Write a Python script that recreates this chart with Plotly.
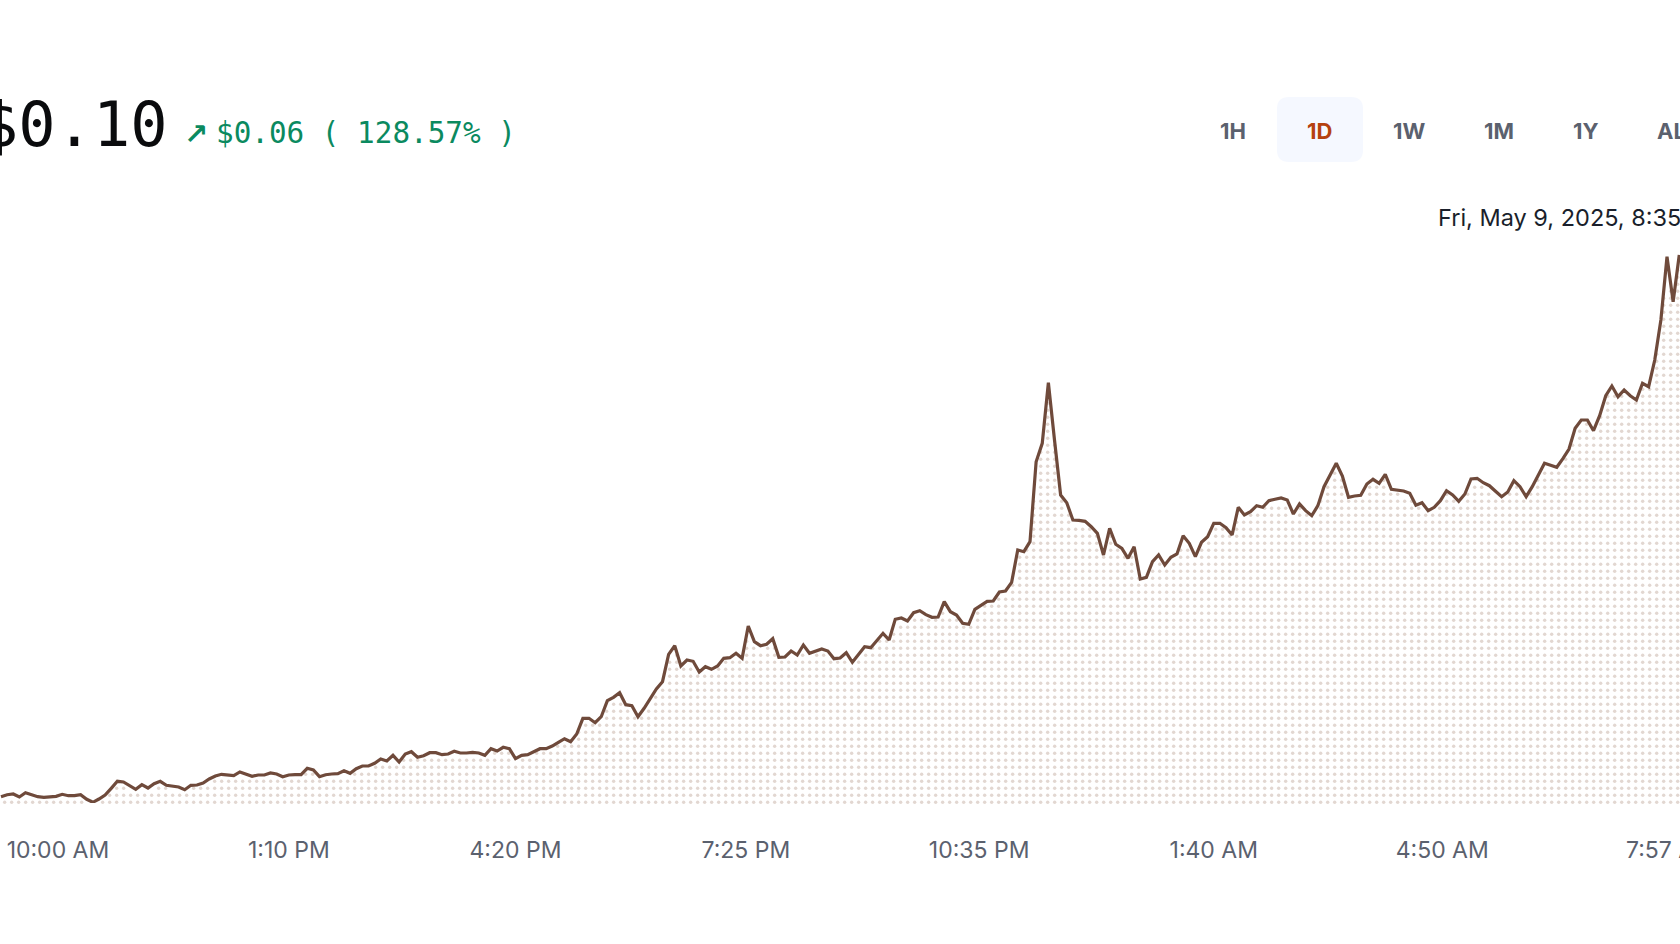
"""Token price over one day, dotted area under a brown line."""

import numpy as np
import plotly.graph_objects as go

# one sample every five minutes, USD
prices = [
    0.04363, 0.04383, 0.04390, 0.04360, 0.04403, 0.04383, 0.04363, 0.04357, 0.04363, 0.04367,
    0.04387, 0.04373, 0.04373, 0.04383, 0.04337, 0.04307, 0.04340, 0.04380, 0.04447, 0.04517,
    0.04510, 0.04470, 0.04437, 0.04483, 0.04450, 0.04493, 0.04517, 0.04477, 0.04467, 0.04460,
    0.04433, 0.04477, 0.04480, 0.04500, 0.04540, 0.04570, 0.04587, 0.04580, 0.04573, 0.04610,
    0.04587, 0.04567, 0.04580, 0.04580, 0.04600, 0.04590, 0.04563, 0.04580, 0.04583, 0.04583,
    0.04647, 0.04630, 0.04563, 0.04583, 0.04590, 0.04593, 0.04623, 0.04597, 0.04643, 0.04670,
    0.04670, 0.04697, 0.04740, 0.04720, 0.04777, 0.04710, 0.04790, 0.04813, 0.04757, 0.04773,
    0.04803, 0.04803, 0.04783, 0.04790, 0.04817, 0.04800, 0.04800, 0.04807, 0.04800, 0.04777,
    0.04843, 0.04820, 0.04857, 0.04843, 0.04743, 0.04777, 0.04783, 0.04817, 0.04843, 0.04843,
    0.04870, 0.04907, 0.04943, 0.04913, 0.04990, 0.05147, 0.05147, 0.05103, 0.05163, 0.05323,
    0.05357, 0.05403, 0.05283, 0.05273, 0.05163, 0.05247, 0.05337, 0.05440, 0.05513, 0.05787,
    0.05873, 0.05670, 0.05730, 0.05717, 0.05610, 0.05663, 0.05637, 0.05670, 0.05747, 0.05753,
    0.05797, 0.05747, 0.06070, 0.05913, 0.05873, 0.05887, 0.05943, 0.05757, 0.05760, 0.05820,
    0.05780, 0.05880, 0.05797, 0.05820, 0.05840, 0.05820, 0.05743, 0.05750, 0.05803, 0.05707,
    0.05780, 0.05863, 0.05853, 0.05930, 0.05997, 0.05930, 0.06137, 0.06150, 0.06120, 0.06203,
    0.06223, 0.06183, 0.06157, 0.06160, 0.06313, 0.06213, 0.06180, 0.06097, 0.06087, 0.06237,
    0.06280, 0.06317, 0.06320, 0.06410, 0.06420, 0.06507, 0.06830, 0.06813, 0.06913, 0.07713,
    0.07897, 0.08503, 0.07930, 0.07380, 0.07303, 0.07130, 0.07127, 0.07117, 0.07063, 0.06997,
    0.06780, 0.07047, 0.06887, 0.06847, 0.06747, 0.06863, 0.06540, 0.06557, 0.06713, 0.06780,
    0.06680, 0.06757, 0.06790, 0.06973, 0.06897, 0.06763, 0.06907, 0.06963, 0.07097, 0.07097,
    0.07053, 0.06980, 0.07257, 0.07180, 0.07213, 0.07273, 0.07257, 0.07323, 0.07337, 0.07350,
    0.07330, 0.07190, 0.07290, 0.07223, 0.07173, 0.07273, 0.07463, 0.07580, 0.07697, 0.07570,
    0.07357, 0.07370, 0.07377, 0.07490, 0.07537, 0.07497, 0.07587, 0.07437, 0.07430, 0.07420,
    0.07397, 0.07277, 0.07303, 0.07223, 0.07257, 0.07323, 0.07423, 0.07380, 0.07317, 0.07390,
    0.07540, 0.07547, 0.07503, 0.07473, 0.07417, 0.07363, 0.07410, 0.07523, 0.07463, 0.07363,
    0.07463, 0.07580, 0.07697, 0.07677, 0.07657, 0.07743, 0.07840, 0.08047, 0.08130, 0.08130,
    0.08023, 0.08173, 0.08373, 0.08470, 0.08363, 0.08430, 0.08373, 0.08330, 0.08497, 0.08463,
    0.08730, 0.09130, 0.09763, 0.09313, 0.09780,
]
sample_index = list(range(len(prices)))

tick_positions = [9.3, 47, 84, 121.6, 159.7, 198, 235.3, 272.5]
tick_labels = ["10:00 AM", "1:10 PM", "4:20 PM", "7:25 PM", "10:35 PM", "1:40 AM", "4:50 AM", "7:57 AM"]

range_buttons = ["1H", "1D", "1W", "1M", "1Y", "ALL"]
button_centers = [1233, 1319, 1409, 1499, 1586, 1677]
selected_button = "1D"

WIDTH, HEIGHT = 1680, 944
PLOT_TOP, PLOT_BOTTOM = 203, 803
LINE_COLOR = "#6f4a3b"
GREEN = "#0b8a5f"
TICK_COLOR = "#5b616e"
TICK_FONT = {"family": "Inter", "size": 23, "color": TICK_COLOR}


def px_x(x):
    return x / WIDTH


def px_y(y):
    return (PLOT_BOTTOM - y) / (PLOT_BOTTOM - PLOT_TOP)


def label(fig, text, x, y, size, color, family="Inter", anchor="center"):
    fig.add_annotation(
        text=text,
        xref="paper",
        yref="paper",
        x=px_x(x),
        y=px_y(y),
        xanchor=anchor,
        yanchor="middle",
        showarrow=False,
        font={"family": family, "size": size, "color": color},
    )


# square dot texture under the line, plotly's own "." pattern is staggered
dot_columns = np.arange(0.6, len(prices), 8 / 7)
dot_rows = np.arange(0.04307, max(prices), 0.0007)
grid_x, grid_y = np.meshgrid(dot_columns, dot_rows)
under_line = grid_y < np.interp(grid_x, sample_index, prices) - 0.0003

fig = go.Figure()
fig.add_trace(
    go.Scatter(
        x=grid_x[under_line],
        y=grid_y[under_line],
        mode="markers",
        marker={"size": 3.4, "color": "#e2d7d1"},
        cliponaxis=False,
        hoverinfo="skip",
    )
)
fig.add_trace(
    go.Scatter(
        x=sample_index,
        y=prices,
        mode="lines",
        line={"color": LINE_COLOR, "width": 3.2},
        hoverinfo="skip",
    )
)

# selected range button background
x0, x1, y0, y1, r = px_x(1277), px_x(1363), px_y(97), px_y(162), 12
rx, ry = r / WIDTH, r / (PLOT_BOTTOM - PLOT_TOP)
fig.add_shape(
    type="path",
    xref="paper",
    yref="paper",
    path=(
        f"M {x0 + rx} {y0} L {x1 - rx} {y0} Q {x1} {y0} {x1} {y0 - ry} "
        f"L {x1} {y1 + ry} Q {x1} {y1} {x1 - rx} {y1} "
        f"L {x0 + rx} {y1} Q {x0} {y1} {x0} {y1 + ry} "
        f"L {x0} {y0 - ry} Q {x0} {y0} {x0 + rx} {y0} Z"
    ),
    fillcolor="#f5f8ff",
    line={"width": 0},
    layer="below",
)

label(fig, "$0.10", 170, 124, 62, "#0a0b0d", family="DejaVu Sans Mono", anchor="right")
label(fig, "<b>↗</b>", 196, 134, 29, GREEN, family="DejaVu Sans")
label(fig, "$0.06 ( 128.57% )", 214, 133, 29.3, GREEN, family="DejaVu Sans Mono", anchor="left")

for name, center in zip(range_buttons, button_centers):
    color = "#b5410f" if name == selected_button else TICK_COLOR
    label(fig, f"<b>{name}</b>", center, 131, 22, color)

label(fig, "Fri, May 9, 2025, 8:35 AM", 1436, 217, 23.5, "#1a1f2b", anchor="left")

# plotly drops a tick label that overflows the page, so the last one is an annotation
fig.add_annotation(
    text=tick_labels[-1],
    xref="x",
    yref="paper",
    x=tick_positions[-1],
    y=px_y(850),
    xanchor="center",
    yanchor="middle",
    showarrow=False,
    font=TICK_FONT,
)

fig.update_xaxes(
    range=[-0.16, 274.12],
    tickmode="array",
    tickvals=tick_positions[:-1],
    ticktext=tick_labels[:-1],
    tickfont=TICK_FONT,
    ticks="outside",
    ticklen=26,
    tickcolor="rgba(0,0,0,0)",
    showgrid=False,
    zeroline=False,
    showline=False,
)
fig.update_yaxes(range=[0.0430, 0.1030], visible=False)
fig.update_layout(
    width=WIDTH,
    height=HEIGHT,
    margin={"l": 0, "r": 0, "t": PLOT_TOP, "b": HEIGHT - PLOT_BOTTOM},
    paper_bgcolor="white",
    plot_bgcolor="white",
    showlegend=False,
)

fig.write_html(
    "out.html",
    config={"displayModeBar": False},
    post_script="document.body.style.margin='0';document.body.style.overflow='hidden';",
)
